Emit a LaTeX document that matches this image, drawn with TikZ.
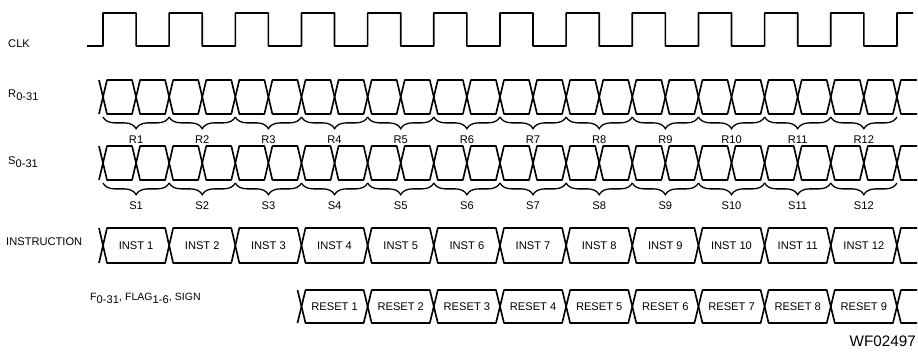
\documentclass[tikz,border=0pt]{standalone}
\usepackage{fontspec}
\setmainfont{Liberation Sans}
\usetikzlibrary{decorations.pathreplacing}

\newcommand{\lowsub}[1]{\raisebox{-.55ex}{#1}}
% bus row: top y, bottom y, first crossing, cell width, number of cells
\newcommand{\busrow}[5]{%
  \pgfmathsetmacro\bmid{(#1+#2)/2}
  \draw[sig] ({#3-4},#1) -- (#3,\bmid) -- ({#3-4},#2);
  \foreach \k in {1,...,#5} {
    \pgfmathsetmacro\xa{#3+#4*(\k-1)}
    \pgfmathsetmacro\xb{#3+#4*\k}
    \draw[sig] (\xa,\bmid) -- ({\xa+4},#1) -- ({\xb-4},#1) -- (\xb,\bmid)
      -- ({\xb-4},#2) -- ({\xa+4},#2) -- cycle;
  }
  \pgfmathsetmacro\xe{#3+#4*#5}
  \draw[sig] (917,#1) -- ({\xe+4},#1) -- (\xe,\bmid) -- ({\xe+4},#2) -- (917,#2);
}

\tikzset{
  sig/.style={line width=1.4pt, line join=round},
  rowlabel/.style={anchor=west, inner sep=0pt, font=\fontsize{9.5}{10}\selectfont},
  celltext/.style={inner sep=0pt, font=\fontsize{9.5}{10}\selectfont},
  brc/.style={decorate, decoration={brace, mirror, amplitude=10pt}, line width=1.1pt},
}

\begin{document}
\begin{tikzpicture}[x=0.03cm, y=-0.03cm]
  \useasboundingbox (0,0) rectangle (918,353);

  % clock
  \node[rowlabel] (clk) at (8,44) {CLK};
  \draw[sig] (87,46) -- (103,46)
    \foreach \j in {0,...,11} { -- ({103+66.16*\j},13) -- ({136.08+66.16*\j},13)
      -- ({136.08+66.16*\j},46) -- ({169.16+66.16*\j},46) }
    -- (897,13) -- (913,13);

  % R and S buses
  \node[rowlabel] (rbus) at (8,95) {R\lowsub{0-31}};
  \busrow{80}{114}{103}{33.08}{24}
  \foreach \k in {1,...,12} {
    \draw[brc] ({103+66.16*(\k-1)},117) -- ({103+66.16*\k},117);
    \node[celltext] (rlab\k) at ({69.92+66.16*\k},140) {R\k};
  }

  \node[rowlabel] (sbus) at (8,162) {S\lowsub{0-31}};
  \busrow{146}{180}{103}{33.08}{24}
  \foreach \k in {1,...,12} {
    \draw[brc] ({103+66.16*(\k-1)},183) -- ({103+66.16*\k},183);
    \node[celltext] (slab\k) at ({69.92+66.16*\k},206) {S\k};
  }

  % instruction
  \node[rowlabel] (instr) at (6,242) {INSTRUCTION};
  \busrow{228}{263}{103}{66.16}{12}
  \foreach \k in {1,...,12}
    \node[celltext] (inst\k) at ({69.92+66.16*\k},245.5) {INST \k};

  % flags
  \node[rowlabel] (flags) at (90,298) {{\small F}\lowsub{0-31}, {\small FLAG}\lowsub{1-6}, {\small SIGN}};
  \busrow{290}{323}{301.5}{66.16}{9}
  \foreach \k in {1,...,9}
    \node[celltext] (reset\k) at ({268.42+66.16*\k},306.5) {RESET \k};

  \node[anchor=east, inner sep=0pt, font=\fontsize{13}{14}\selectfont] (wf) at (916,341) {WF02497};
\end{tikzpicture}
\end{document}
